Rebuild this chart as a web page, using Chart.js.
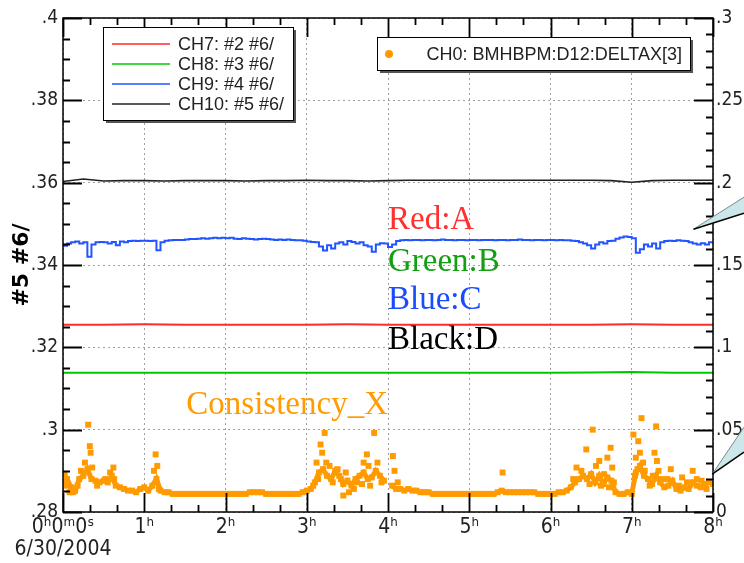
<!doctype html>
<html lang="en">

<head>
    <meta charset="utf-8">
    <title>BPM chart</title>
    <script src="https://cdn.jsdelivr.net/npm/chart.js@4.4.0/dist/chart.umd.min.js"></script>
    <style>
        body { margin: 0; background: #fff; }
        #wrap { width: 744px; height: 563px; }
    </style>
</head>

<body>

    <div id="wrap"><canvas id="chart" width="744" height="563"></canvas></div>

    <script>
        // hours on the x axis, first label carries the date
        var xTickLabels = [['0ʰ0ᵐ0ˢ', '6/30/2004'], '1ʰ', '2ʰ', '3ʰ', '4ʰ', '5ʰ', '6ʰ', '7ʰ', '8ʰ'];

        // slow channels, sampled every half hour / quarter hour
        var halfHours = [0, 0.5, 1, 1.5, 2, 2.5, 3, 3.5, 4, 4.5, 5, 5.5, 6, 6.5, 7, 7.5, 8];
        var quarterHours = [0, 0.25, 0.5, 0.75, 1, 1.25, 1.5, 1.75, 2, 2.25, 2.5, 2.75, 3, 3.25, 3.5, 3.75, 4,
            4.25, 4.5, 4.75, 5, 5.25, 5.5, 5.75, 6, 6.25, 6.5, 6.75, 7, 7.25, 7.5, 7.75, 8];

        var ch7 = [.3255, .3255, .3256, .3255, .3255, .3255, .3255, .3256, .3255, .3255, .3255, .3255, .3255, .3255, .3256, .3255, .3255];
        var ch8 = [.3138, .3138, .3138, .3138, .3138, .3138, .3138, .3138, .3138, .3138, .3138, .3138, .3138, .3139, .3140, .3138, .3138];
        var ch10 = [.3603, .3609, .3604, .3605, .3605, .3604, .3605, .3605, .3605, .3604, .3605, .3605, .3606, .3605, .3605, .3604, .3605,
            .3606, .3606, .3606, .3606, .3606, .3606, .3606, .3606, .3606, .3606, .3605, .3601, .3605, .3606, .3606, .3606];

        // fast channels, one sample every 3 minutes (0.05 h)
        var step = 0.05;
        var ch9 = [
            .3447, .3452, .3455, .3457, .3452, .3455, .3420, .3450, .3455, .3456,
            .3455, .3452, .3456, .3448, .3457, .3455, .3458, .3459, .3458, .3459,
            .3459, .3458, .3459, .3436, .3455, .3459, .3460, .3461, .3461, .3461,
            .3462, .3463, .3463, .3464, .3465, .3464, .3465, .3466, .3465, .3466,
            .3465, .3466, .3464, .3463, .3465, .3464, .3463, .3462, .3463, .3464,
            .3463, .3462, .3461, .3462, .3461, .3462, .3461, .3460, .3460, .3459,
            .3457, .3456, .3455, .3445, .3435, .3448, .3440, .3452, .3455, .3450,
            .3458, .3456, .3452, .3455, .3448, .3445, .3432, .3450, .3453, .3452,
            .3444, .3450, .3458, .3460, .3461, .3460, .3461, .3461, .3460, .3461,
            .3461, .3460, .3461, .3462, .3461, .3461, .3460, .3461, .3461, .3460,
            .3461, .3461, .3460, .3461, .3461, .3461, .3460, .3461, .3461, .3460,
            .3461, .3461, .3462, .3461, .3461, .3460, .3461, .3461, .3460, .3461,
            .3461, .3460, .3461, .3460, .3460, .3459, .3458, .3455, .3452, .3448,
            .3440, .3450, .3455, .3452, .3458, .3459, .3464, .3467, .3469, .3468,
            .3465, .3430, .3438, .3450, .3445, .3452, .3440, .3455, .3458, .3459,
            .3458, .3460, .3459, .3458, .3455, .3452, .3450, .3453, .3450, .3455, .3456
        ];
        var ch0 = [
            .018, .020, .015, .013, .020, .022, .026, .020, .019, .018,
            .019, .018, .022, .016, .015, .014, .013, .013, .012, .014,
            .015, .013, .016, .020, .013, .012, .012, .011, .011, .011,
            .011, .011, .011, .011, .011, .011, .011, .011, .011, .011,
            .011, .011, .011, .011, .011, .011, .012, .012, .012, .012,
            .011, .011, .011, .011, .011, .011, .011, .011, .011, .012,
            .013, .014, .018, .024, .026, .022, .020, .025, .022, .017,
            .019, .016, .020, .022, .024, .020, .021, .025, .022, .019,
            null, .016, .014, .014, .013, .014, .013, .013, .012, .012,
            .012, .011, .011, .011, .011, .011, .011, .011, .011, .011,
            .011, .011, .011, .011, .011, .011, .011, .012, .013, .012,
            .012, .012, .012, .012, .012, .012, .012, .011, .011, .011,
            .011, .011, .012, .012, .013, .015, .018, .020, .022, .020,
            .023, .018, .022, .017, .021, .019, .012, .011, .011, .012,
            .011, .024, .028, .022, .020, .017, .022, .018, .015, .016,
            .019, .014, .013, .015, .014, .018, .016, .015, .017, .018, .017
        ];
        // scattered CH0 readings away from the main band
        var ch0ExtraTimes = [0.02, 0.04, 0.08, 0.12, 0.18, 0.22, 0.27, 0.31, 0.33, 0.34, 0.36, 0.42, 0.52, 0.58, 0.62, 0.63, 1.12, 1.14, 1.16, 1.18,
            3.08, 3.12, 3.14, 3.17, 3.19, 3.22, 3.24, 3.28, 3.32, 3.38, 3.42, 3.45, 3.48, 3.52, 3.58, 3.62, 3.68, 3.70, 3.74, 3.76, 3.78, 3.83, 3.87, 3.92, 4.06, 4.08, 4.12,
            5.41, 6.28, 6.32, 6.38, 6.44, 6.48, 6.52, 6.56, 6.60, 6.62, 6.66, 6.70, 6.72, 6.74, 6.76, 6.78,
            7.02, 7.04, 7.05, 7.07, 7.08, 7.10, 7.12, 7.14, 7.16, 7.22, 7.26, 7.28, 7.30, 7.31, 7.33, 7.38, 7.44, 7.48, 7.58, 7.62, 7.68, 7.75, 7.80, 7.86, 7.92];
        var ch0ExtraValues = [.023, .016, .012, .012, .016, .025, .030, .053, .040, .036, .027, .016, .020, .024, .027, .020, .025, .035, .028, .014,
            .016, .030, .020, .041, .036, .048, .030, .028, .018, .026, .020, .010, .024, .012, .014, .018, .017, .030, .035, .028, .016, .048, .030, .018, .034, .025, .018,
            .024, .020, .027, .025, .038, .017, .050, .028, .031, .016, .023, .033, .015, .039, .027, .018,
            .047, .022, .033, .026, .043, .036, .057, .030, .025, .016, .022, .036, .052, .031, .025, .020, .020, .026, .016, .021, .018, .025, .020, .019, .014];

        // text notes written on the plot: hour, left-axis value
        var notes = [
            { text: 'Red:A', h: 4, v: .3509, color: '#ff3030', align: 'left' },
            { text: 'Green:B', h: 4, v: .3407, color: '#12a012', align: 'left' },
            { text: 'Blue:C', h: 4, v: .3315, color: '#1a4cff', align: 'left' },
            { text: 'Black:D', h: 4, v: .3218, color: '#000000', align: 'left' },
            { text: 'Consistency_X', h: 4, v: .3060, color: '#ff9c00', align: 'right' }
        ];

        function pairs(times, values) {
            return values.map(function (v, i) { return { x: times[i], y: v }; });
        }

        function sampled(values) {
            return values.map(function (v, i) { return { x: +(i * step).toFixed(2), y: v }; });
        }

        function fmt(v) {
            return String(+v.toFixed(3)).replace(/^0\./, '.');
        }

        var narrow = "'Liberation Sans Narrow', 'DejaVu Sans Condensed', sans-serif";

        var decor = {
            id: 'decor',
            afterDatasetsDraw: function (chart) {
                var ctx = chart.ctx, x = chart.scales.x, yl = chart.scales.y;
                ctx.save();
                ctx.font = "33px 'Liberation Serif', serif";
                ctx.textBaseline = 'middle';
                notes.forEach(function (n) {
                    ctx.fillStyle = n.color;
                    ctx.textAlign = n.align;
                    ctx.fillText(n.text, x.getPixelForValue(n.h), yl.getPixelForValue(n.v));
                });
                ctx.restore();
            },
            afterDraw: function (chart) {
                var ctx = chart.ctx, a = chart.chartArea;
                var x = chart.scales.x, yl = chart.scales.y, yr = chart.scales.y1;
                var i, p, len;
                ctx.save();
                ctx.setLineDash([]);
                ctx.strokeStyle = '#000';
                ctx.lineWidth = 1.5;
                ctx.strokeRect(a.left, a.top, a.right - a.left, a.bottom - a.top);

                // inward tick marks, minor ones between the labelled ones
                ctx.lineWidth = 1.8;
                ctx.beginPath();
                for (i = 0; i <= 24; i++) {
                    p = Math.round(x.getPixelForValue(i / 3)) + 0.5;
                    len = i % 3 === 0 ? 19 : 7;
                    ctx.moveTo(p, a.bottom); ctx.lineTo(p, a.bottom - len);
                    ctx.moveTo(p, a.top); ctx.lineTo(p, a.top + len);
                }
                for (i = 0; i <= 24; i++) {
                    p = Math.round(yl.getPixelForValue(.28 + i * .005)) + 0.5;
                    len = i % 4 === 0 ? 19 : 7;
                    ctx.moveTo(a.left, p); ctx.lineTo(a.left + len, p);
                }
                for (i = 0; i <= 30; i++) {
                    p = Math.round(yr.getPixelForValue(i * .01)) + 0.5;
                    len = i % 5 === 0 ? 19 : 7;
                    ctx.moveTo(a.right, p); ctx.lineTo(a.right - len, p);
                }
                ctx.stroke();

                // legend boxes
                var ds = chart.data.datasets;
                function box(bx, by, bw, bh) {
                    ctx.fillStyle = '#555';
                    ctx.fillRect(bx + 3, by + 3, bw, bh);
                    ctx.fillStyle = '#fff';
                    ctx.fillRect(bx, by, bw, bh);
                    ctx.strokeStyle = '#000';
                    ctx.lineWidth = 1;
                    ctx.strokeRect(bx + 0.5, by + 0.5, bw, bh);
                }
                ctx.font = "18px 'Liberation Sans', Arial, sans-serif";
                ctx.textBaseline = 'middle';
                ctx.textAlign = 'left';
                var lx = a.left + 40, ly = a.top + 9;
                box(lx, ly, 190, 93);
                for (i = 0; i < 4; i++) {
                    var d = ds[i], ry = ly + 17 + i * 20;
                    ctx.strokeStyle = d.borderColor;
                    ctx.lineWidth = 1.5;
                    ctx.beginPath();
                    ctx.moveTo(lx + 9, ry); ctx.lineTo(lx + 67, ry);
                    ctx.stroke();
                    ctx.fillStyle = '#222';
                    ctx.fillText(d.label, lx + 75, ry + 1);
                }
                var rx = a.left + 314, rty = a.top + 19;
                box(rx, rty, 313, 33);
                ctx.fillStyle = ds[4].backgroundColor;
                ctx.beginPath();
                ctx.arc(rx + 12, rty + 17, 4, 0, Math.PI * 2);
                ctx.fill();
                ctx.fillStyle = '#222';
                ctx.textAlign = 'right';
                ctx.fillText(ds[4].label, rx + 305, rty + 18);

                // callout wedges leaving the right edge, black lower edge
                function wedge(tx, ty, e1, e2) {
                    var W = chart.width;
                    ctx.fillStyle = '#cbe7ea';
                    ctx.beginPath();
                    ctx.moveTo(tx, ty); ctx.lineTo(W, e1); ctx.lineTo(W, e2); ctx.closePath();
                    ctx.fill();
                    ctx.strokeStyle = '#7a8a8c';
                    ctx.lineWidth = 1;
                    ctx.beginPath();
                    ctx.moveTo(tx, ty); ctx.lineTo(W, e1);
                    ctx.stroke();
                    ctx.strokeStyle = '#000';
                    ctx.lineWidth = 1.5;
                    ctx.beginPath();
                    ctx.moveTo(tx, ty); ctx.lineTo(W, e2);
                    ctx.stroke();
                }
                var t1x = x.getPixelForValue(7.76), t1y = yl.getPixelForValue(.3487);
                wedge(t1x, t1y, t1y - 32, t1y - 16);
                var t2x = x.getPixelForValue(7.99), t2y = yr.getPixelForValue(.023);
                wedge(t2x, t2y, t2y - 47, t2y - 22);
                ctx.restore();
            }
        };

        new Chart(document.getElementById('chart').getContext('2d'), {
            type: 'scatter',
            data: {
                datasets: [{
                    label: 'CH7: #2 #6/',
                    data: pairs(halfHours, ch7),
                    borderColor: '#ff2a2a',
                    showLine: true, borderWidth: 2, pointRadius: 0, yAxisID: 'y'
                }, {
                    label: 'CH8: #3 #6/',
                    data: pairs(halfHours, ch8),
                    borderColor: '#00c800',
                    showLine: true, borderWidth: 2, pointRadius: 0, yAxisID: 'y'
                }, {
                    label: 'CH9: #4 #6/',
                    data: sampled(ch9),
                    borderColor: '#2255ff',
                    showLine: true, stepped: true, borderWidth: 2, pointRadius: 0, yAxisID: 'y'
                }, {
                    label: 'CH10: #5 #6/',
                    data: pairs(quarterHours, ch10),
                    borderColor: '#222222',
                    showLine: true, borderWidth: 1.6, pointRadius: 0, yAxisID: 'y'
                }, {
                    label: 'CH0: BMHBPM:D12:DELTAX[3]',
                    data: sampled(ch0),
                    backgroundColor: '#ff9a00',
                    borderColor: '#ff9a00',
                    showLine: true, spanGaps: false, borderWidth: 5,
                    pointStyle: 'rect', pointRadius: 4.2, pointBorderWidth: 0, yAxisID: 'y1'
                }, {
                    label: 'CH0 scatter',
                    data: pairs(ch0ExtraTimes, ch0ExtraValues),
                    backgroundColor: '#ff9a00',
                    pointStyle: 'rect', pointRadius: 4.2, pointBorderWidth: 0, yAxisID: 'y1'
                }]
            },
            options: {
                responsive: false,
                animation: false,
                layout: { padding: { top: 18, left: 0, right: 0, bottom: 0 } },
                plugins: { legend: { display: false }, tooltip: { enabled: false } },
                scales: {
                    x: {
                        type: 'linear', position: 'bottom', min: 0, max: 8,
                        afterFit: function (s) { s.height = 51; },
                        grid: { color: '#a0a0a0', lineWidth: 1, drawTicks: false },
                        border: { display: false, dash: [2, 3] },
                        ticks: {
                            stepSize: 1, autoSkip: false, maxRotation: 0, padding: 4, color: '#222',
                            font: { family: narrow, size: 21, lineHeight: 1.08 },
                            callback: function (v) { return xTickLabels[v]; }
                        }
                    },
                    y: {
                        position: 'left', min: .28, max: .4,
                        afterFit: function (s) { s.width = 63; },
                        grid: { color: '#a0a0a0', lineWidth: 1, drawTicks: false },
                        border: { display: false, dash: [2, 3] },
                        title: {
                            display: true, text: '#5 #6/', color: '#000',
                            font: { family: "'DejaVu Sans', sans-serif", weight: 'bold', size: 22 },
                            padding: { top: 9, bottom: 0 }
                        },
                        ticks: {
                            stepSize: .02, padding: 5, color: '#222',
                            font: { family: narrow, size: 19 },
                            callback: fmt
                        }
                    },
                    y1: {
                        position: 'right', min: 0, max: .3,
                        afterFit: function (s) { s.width = 31; },
                        grid: { display: false, drawTicks: false },
                        border: { display: false },
                        ticks: {
                            stepSize: .05, padding: 3, color: '#222',
                            font: { family: narrow, size: 19 },
                            callback: fmt
                        }
                    }
                }
            },
            plugins: [decor]
        });
    </script>

</body>

</html>
